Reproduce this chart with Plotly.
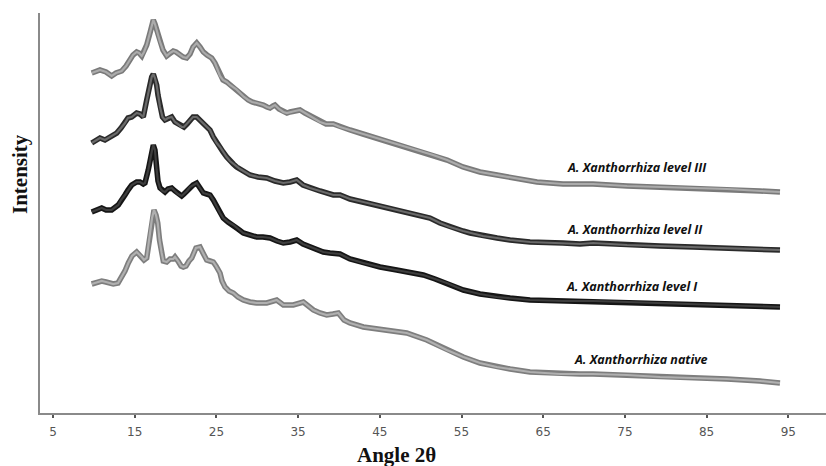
import plotly.graph_objects as go

# ---- data ----
x_tick_vals = [5, 15, 25, 35, 45, 55, 65, 75, 85, 95]
x_tick_text = ["5", "15", "25", "35", "45", "55", "65", "75", "85", "95"]

angle_l3 = [9.74, 10.75, 11.49, 12.18, 12.71, 13.41, 13.94, 14.42, 14.79, 15.24, 15.53, 15.86, 16.14, 16.47,
            16.87, 17.28, 17.48, 17.69, 17.85, 18.10, 18.46, 18.92, 19.32, 19.72, 20.06, 20.54, 20.91, 21.36,
            21.77, 22.14, 22.59, 22.99, 23.40, 23.85, 24.42, 24.83, 25.20, 25.44, 25.81, 26.26, 26.66, 27.07,
            27.40, 27.89, 28.38, 28.90, 29.36, 29.93, 30.34, 30.74, 31.19, 31.56, 31.93, 32.17, 32.66, 33.19,
            33.64, 34.01, 34.62, 35.23, 35.84, 36.46, 37.07, 37.68, 38.42, 39.31, 40.13, 41.35, 42.94, 45.39,
            47.47, 49.55, 51.51, 53.23, 55.18, 57.26, 59.35, 61.79, 64.24, 67.42, 69.50, 71.10, 75.26, 79.30,
            83.34, 87.50, 91.54, 93.98]
int_l3 = [340, 343, 341, 337, 340, 342, 347, 353, 358, 361, 360, 357, 361, 368,
          380, 393, 389, 383, 376, 371, 363, 357, 360, 362, 361, 358, 356, 355,
          359, 366, 370, 366, 361, 358, 355, 350, 343, 337, 333, 331, 328, 326,
          324, 320, 316, 313, 311, 310, 309, 308, 306, 305, 307, 308, 304, 301,
          300, 301, 302, 303, 300, 297, 294, 291, 289, 289, 286, 283, 279, 273,
          268, 263, 258, 253, 246, 241, 238, 235, 231, 229, 229, 229, 227, 226,
          225, 224, 222, 221]

angle_l2 = [9.74, 10.75, 11.36, 11.98, 12.80, 13.32, 13.81, 14.18, 14.63, 15.24, 15.65, 16.05, 16.47, 16.75,
            17.08, 17.28, 17.48, 17.69, 17.85, 18.10, 18.40, 18.71, 19.08, 19.53, 19.93, 20.30, 20.75, 21.03,
            21.40, 21.77, 22.14, 22.59, 22.99, 23.40, 23.81, 24.22, 24.62, 25.04, 25.44, 25.81, 26.26, 26.66,
            27.07, 27.48, 27.89, 28.71, 29.11, 30.09, 31.16, 32.17, 33.19, 34.01, 34.83, 35.60, 36.46, 37.68,
            39.31, 40.13, 41.35, 42.98, 45.43, 47.11, 49.52, 51.14, 52.37, 53.59, 55.18, 56.04, 57.63, 59.35,
            60.94, 63.38, 67.42, 69.50, 71.10, 75.26, 79.30, 83.34, 87.50, 91.54, 93.98]
int_l2 = [270, 275, 273, 276, 280, 285, 290, 295, 296, 300, 299, 296, 313, 325,
          336, 339, 335, 328, 318, 306, 296, 293, 295, 296, 291, 289, 286, 286,
          289, 293, 296, 296, 293, 289, 286, 283, 276, 270, 266, 261, 256, 252,
          249, 246, 244, 240, 238, 236, 235, 232, 230, 231, 233, 228, 225, 222,
          218, 218, 214, 211, 206, 203, 198, 195, 190, 186, 182, 180, 177, 175,
          173, 171, 170, 169, 170, 168, 167, 166, 165, 164, 163]

angle_l1 = [9.74, 10.26, 10.96, 11.49, 12.18, 12.99, 13.32, 13.81, 14.18, 14.63, 15.24, 15.65, 16.05, 16.26,
            16.66, 16.87, 17.08, 17.28, 17.48, 17.69, 17.85, 18.10, 18.40, 18.71, 19.08, 19.53, 19.93, 20.30,
            20.75, 21.03, 21.40, 21.77, 22.14, 22.59, 22.99, 23.40, 23.81, 24.22, 24.62, 25.04, 25.44, 25.84,
            26.42, 27.07, 27.64, 28.29, 29.11, 29.93, 30.70, 31.56, 32.42, 33.19, 34.01, 34.83, 35.60, 36.46,
            37.19, 38.08, 38.90, 40.13, 41.35, 42.98, 45.02, 47.07, 48.70, 50.32, 51.76, 53.19, 55.22, 57.26,
            59.31, 60.94, 63.38, 67.46, 69.50, 71.10, 75.26, 79.30, 83.34, 87.50, 91.54, 93.98]
int_l1 = [201, 203, 205, 203, 203, 208, 213, 218, 223, 228, 231, 231, 229, 230,
          243, 253, 261, 268, 263, 243, 232, 225, 222, 221, 224, 225, 222, 219,
          217, 219, 222, 226, 228, 230, 225, 220, 219, 218, 213, 206, 200, 195,
          191, 188, 184, 180, 178, 176, 176, 175, 172, 170, 171, 173, 169, 166,
          164, 161, 160, 159, 154, 150, 146, 143, 141, 138, 134, 130, 123, 119,
          116, 115, 113, 112, 112, 112, 111, 110, 109, 108, 107, 106]

angle_nat = [9.74, 10.26, 10.96, 11.49, 12.38, 12.96, 13.41, 13.81, 14.22, 14.67, 15.24, 15.53, 15.86, 16.14,
             16.47, 16.63, 16.87, 17.12, 17.36, 17.61, 17.82, 18.04, 18.30, 18.50, 18.92, 19.32, 19.72, 19.93,
             20.30, 20.67, 20.95, 21.28, 21.65, 21.98, 22.50, 22.99, 23.36, 23.81, 24.22, 24.62, 24.95, 25.44,
             25.69, 26.05, 26.54, 27.07, 27.64, 28.29, 29.11, 29.93, 31.16, 32.38, 33.19, 34.41, 35.64, 36.21,
             36.86, 37.68, 38.50, 39.27, 39.92, 40.62, 41.35, 42.98, 45.43, 48.29, 50.74, 53.19, 55.22, 57.26,
             59.31, 60.94, 63.38, 67.06, 69.50, 71.10, 75.26, 79.30, 83.34, 87.50, 91.54, 93.98]
int_nat = [129, 130, 132, 131, 129, 130, 136, 142, 150, 157, 161, 159, 156, 153,
           155, 165, 180, 195, 203, 198, 190, 173, 160, 152, 151, 154, 154, 156,
           152, 147, 146, 147, 152, 155, 165, 166, 160, 153, 152, 151, 147, 140,
           132, 126, 122, 120, 116, 113, 111, 110, 110, 113, 108, 108, 111, 107,
           103, 100, 98, 99, 100, 93, 90, 86, 83, 80, 73, 63, 56, 50,
           46, 44, 41, 39, 39, 39, 38, 36, 35, 34, 32, 30]

series_names = ["A. Xanthorrhiza level III", "A. Xanthorrhiza level II",
                "A. Xanthorrhiza level I", "A. Xanthorrhiza native"]

# ---- styling ----
series = [
    (angle_l3, int_l3, "#7a7a7a", "#ababab", 67.7, 246),
    (angle_l2, int_l2, "#2a2a2a", "#6a6a6a", 67.7, 184),
    (angle_l1, int_l1, "#151515", "#3e3e3e", 67.6, 127),
    (angle_nat, int_nat, "#7e7e7e", "#b0b0b0", 68.5, 54),
]

fig = go.Figure()
annotations = []
for (ang, inten, outer, inner, lx, ly), name in zip(series, series_names):
    fig.add_trace(go.Scatter(x=ang, y=inten, mode="lines", name=name,
                             line=dict(color=outer, width=5.5), showlegend=False,
                             hoverinfo="skip"))
    fig.add_trace(go.Scatter(x=ang, y=inten, mode="lines", name=name,
                             line=dict(color=inner, width=2.2), showlegend=False))
    annotations.append(dict(x=lx, y=ly, xref="x", yref="y", text=name, showarrow=False,
                            xanchor="left", yanchor="middle",
                            font=dict(family="Open Sans", size=12.5, color="#111111",
                                      weight="bold", style="italic")))

annotations.append(dict(x=0.453, y=-0.105, xref="paper", yref="paper", text="Angle 2θ",
                        showarrow=False, xanchor="center", yanchor="middle",
                        font=dict(family="Liberation Serif", size=21, color="#111111", weight="bold")))
annotations.append(dict(x=-0.0254, y=0.5975, xref="paper", yref="paper", text="Intensity",
                        textangle=-90, showarrow=False, xanchor="center", yanchor="middle",
                        font=dict(family="Liberation Serif", size=21, color="#111111", weight="bold")))

fig.update_layout(
    width=826, height=466,
    margin=dict(l=40, r=0, t=13, b=53),
    paper_bgcolor="white", plot_bgcolor="white",
    showlegend=False,
    annotations=annotations,
    xaxis=dict(range=[3.41, 99.61], tickmode="array", tickvals=x_tick_vals, ticktext=x_tick_text,
               showline=True, linecolor="#8a8a8a", linewidth=2, showgrid=False, zeroline=False,
               ticks="outside", ticklen=3, tickwidth=2, tickcolor="#555555", ticklabelstandoff=4,
               tickfont=dict(family="DejaVu Sans", size=12, color="#555555")),
    yaxis=dict(range=[0, 400], showline=True, linecolor="#8a8a8a", linewidth=2,
               showgrid=False, zeroline=False, showticklabels=False, ticks=""),
)

fig.write_html("out.html", config={"displayModeBar": False},
               post_script="document.body.style.margin='0';document.body.style.padding='0';"
                           "document.documentElement.style.overflow='hidden';")
